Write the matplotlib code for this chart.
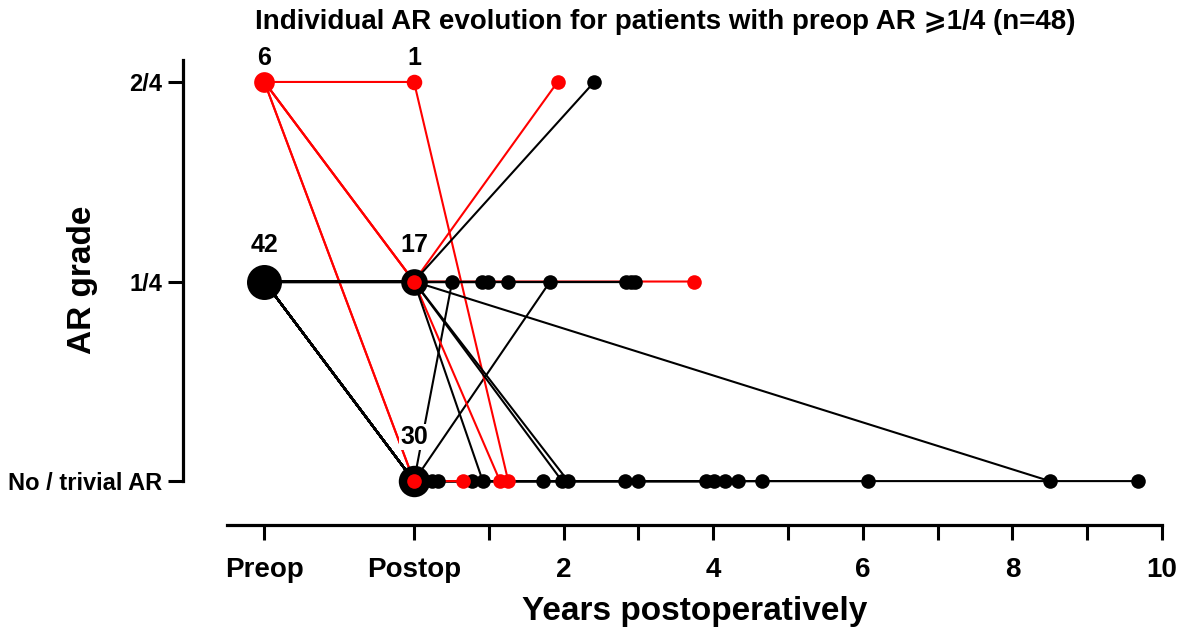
import numpy as np
import matplotlib.pyplot as plt

plt.rcParams['font.family'] = ['Liberation Sans', 'DejaVu Sans']
plt.rcParams['font.weight'] = 'bold'

# x axis: -2 = Preop, 0 = Postop, then years after surgery
# grade: 0 = no / trivial AR, 1 = 1/4, 2 = 2/4
# one entry per patient (black: preop 1/4, red: preop 2/4)
pat_color = ['black'] * 28 + ['red'] * 6 + ['black'] * 14
pre_grade = [1] * 28 + [2] * 6 + [1] * 14
post_grade = [0] * 28 + [0, 0, 2, 1, 1, 1] + [1] * 14
nan = np.nan
fu_year = ([0.24, 0.32, 0.78, 1.73, 2.82, 2.99, 3.91, 4.01, 4.16, 4.33, 4.65,
            6.07, 9.68, 0.51, 1.82] + [nan] * 13
           + [nan, 0.66, 1.26, 1.92, 1.15, 3.74]
           + [2.41, 0.92, 1.98, 2.06, 8.50, 0.91, 0.99, 1.25, 2.83, 2.90, 2.96,
              nan, nan, nan])
fu_grade = ([0] * 13 + [1, 1] + [nan] * 13
            + [nan, 0, 0, 2, 0, 1]
            + [2, 0, 0, 0, 0, 1, 1, 1, 1, 1, 1, nan, nan, nan])

PREOP, POSTOP = -2, 0
xtick_pos = [-2, 0, 1, 2, 3, 4, 5, 6, 7, 8, 9, 10]
xtick_lab = ['Preop', 'Postop', '', '2', '', '4', '', '6', '', '8', '', '10']
ytick_pos = [0, 1, 2]
ytick_lab = ['No / trivial AR', '1/4', '2/4']

RED = '#ff0000'
cmap = {'black': 'black', 'red': RED}

fig = plt.figure(figsize=(11.78, 6.35), dpi=100)
ax = fig.add_axes([227 / 1178, 110 / 635, 935 / 1178, 465 / 635])

# lines, in patient order
for c, g0, g1, t, g2 in zip(pat_color, pre_grade, post_grade, fu_year, fu_grade):
    xs = [PREOP, POSTOP]
    ys = [g0, g1]
    if not np.isnan(t):
        xs.append(t)
        ys.append(g2)
    ax.plot(xs, ys, color=cmap[c], lw=1.5, zorder=1, solid_capstyle='round')

# follow-up dots
for c, t, g2 in zip(pat_color, fu_year, fu_grade):
    if not np.isnan(t):
        ax.plot(t, g2, 'o', color=cmap[c], ms=10.5, mew=0, zorder=3)

# preop / postop nodes, size by number of patients
lift = {2: 24, 1: 37, 0: 44}
for xnode, grades in [(PREOP, pre_grade), (POSTOP, post_grade)]:
    for g in ytick_pos:
        cols = [c for c, gg in zip(pat_color, grades) if gg == g]
        n = len(cols)
        if n == 0:
            continue
        d = 12 + 23 * np.sqrt(n / 42)
        if all(c == 'red' for c in cols):
            ax.plot(xnode, g, 'o', color=RED, ms=d * 0.72, mew=0, zorder=4)
        else:
            ax.plot(xnode, g, 'o', color='black', ms=d * 0.72, mew=0, zorder=4)
            if 'red' in cols:
                ax.plot(xnode, g, 'o', color=RED, ms=10.5, mew=0, zorder=5)
        ax.annotate(str(n), xy=(xnode, g), xytext=(0, lift[g] * 0.72),
                    textcoords='offset points', ha='center', va='center',
                    fontsize=18, fontweight='bold', zorder=6,
                    bbox=dict(boxstyle='square,pad=0.05', fc='white', ec='none'))

ax.set_xlim(-2.5, 10)
ax.set_ylim(-0.22, 2.11)
ax.set_xticks(xtick_pos)
ax.set_xticklabels(xtick_lab)
ax.set_yticks(ytick_pos)
ax.set_yticklabels(ytick_lab)

for s in ['top', 'right']:
    ax.spines[s].set_visible(False)
ax.spines['left'].set_position(('outward', 31.7))
ax.spines['left'].set_bounds(0, 2.11)
ax.spines['left'].set_linewidth(2.3)
ax.spines['bottom'].set_linewidth(2.3)

ax.tick_params(axis='x', width=2.2, length=11, labelsize=20, pad=12)
ax.tick_params(axis='y', width=2.2, length=11, labelsize=17, pad=4)

ax.set_xlabel('Years postoperatively', fontsize=24, fontweight='bold')
ax.xaxis.label.set_va('center')
ax.xaxis.set_label_coords(0.5, -0.187)
ax.set_ylabel('AR grade', fontsize=24, fontweight='bold')
ax.yaxis.label.set_va('center')
ax.yaxis.set_label_coords(-0.155, 0.527)

fig.suptitle('Individual AR evolution for patients with preop AR \u2A7E1/4 (n=48)',
             x=0.5645, y=0.965, va='center', fontsize=20, fontweight='bold')

plt.savefig('out.png', dpi=100)
